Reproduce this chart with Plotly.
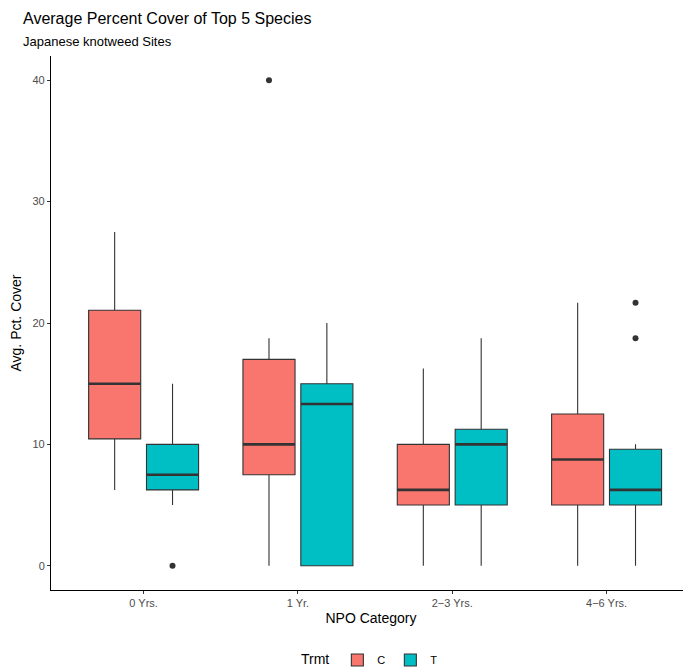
import plotly.graph_objects as go

categories = ["0 Yrs.", "1 Yr.", "2\u22123 Yrs.", "4\u22126 Yrs."]
treatments = ["C", "T"]
colors = {"C": "#F8766D", "T": "#00BFC4"}

# box statistics
c_lower = [6.25, 0, 0, 0]
c_q1 = [10.45, 7.5, 5, 5]
c_median = [15, 10, 6.25, 8.75]
c_q3 = [21.05, 17, 10, 12.5]
c_upper = [27.5, 18.75, 16.25, 21.67]
c_outliers = [[], [40], [], []]

t_lower = [5, 0, 0, 0]
t_q1 = [6.25, 0, 5, 5]
t_median = [7.5, 13.33, 10, 6.25]
t_q3 = [10, 15, 11.25, 9.6]
t_upper = [15, 20, 18.75, 10]
t_outliers = [[0], [], [], [21.67, 18.75]]

stats = {
    "C": dict(lower=c_lower, q1=c_q1, median=c_median, q3=c_q3, upper=c_upper, out=c_outliers),
    "T": dict(lower=t_lower, q1=t_q1, median=t_median, q3=t_q3, upper=t_upper, out=t_outliers),
}

BOXGAP = 0.25
GROUPGAP = 0.1
pos = [i + 1 for i in range(len(categories))]
ntr = len(treatments)
slot = (1 - BOXGAP) / ntr
half = slot * (1 - GROUPGAP) / 2

# the page body has an 8px margin, so the figure is sized to the visible area
W, H = 683, 663
L, T, PW, PH = 43, 48, 640, 534

FONT = "Liberation Sans, Arial, Helvetica, sans-serif"
fig = go.Figure()

for k, tr in enumerate(treatments):
    s = stats[tr]
    fig.add_trace(go.Box(
        name=tr, x=pos, q1=s["q1"], median=s["median"], q3=s["q3"],
        lowerfence=s["lower"], upperfence=s["upper"],
        fillcolor=colors[tr], line=dict(color="#333333", width=1.1),
        whiskerwidth=0, boxpoints=False, offsetgroup=tr,
        legendgroup=tr, showlegend=True,
    ))

for k, tr in enumerate(treatments):
    s = stats[tr]
    off = (k - (ntr - 1) / 2) * slot
    mx, my = [], []
    ox, oy = [], []
    for i, p in enumerate(pos):
        c = p + off
        mx += [c - half, c + half, None]
        my += [s["median"][i], s["median"][i], None]
        for v in s["out"][i]:
            ox.append(c)
            oy.append(v)
    fig.add_trace(go.Scatter(x=mx, y=my, mode="lines",
                             line=dict(color="#333333", width=2.6),
                             showlegend=False, hoverinfo="skip"))
    if ox:
        fig.add_trace(go.Scatter(x=ox, y=oy, mode="markers",
                                 marker=dict(color="#333333", size=6),
                                 showlegend=False))

fig.update_layout(
    width=W, height=H,
    margin=dict(l=L, r=W - L - PW, t=T, b=H - T - PH, autoexpand=False),
    paper_bgcolor="white", plot_bgcolor="white",
    boxmode="group", boxgap=BOXGAP, boxgroupgap=GROUPGAP,
    font=dict(family=FONT, color="black"),
    title=dict(text="Average Percent Cover of Top 5 Species",
               x=15 / W, xref="container", xanchor="left",
               y=1 - 10 / H, yref="container", yanchor="middle",
               font=dict(size=16, color="black")),
    xaxis=dict(range=[0.4, 0.4 + PW / 154.33], tickvals=pos, ticktext=categories,
               showline=True, linecolor="black", linewidth=1.1, automargin=False,
               ticks="outside", ticklen=3, tickcolor="#333333",
               tickfont=dict(size=11, color="#4D4D4D"), showgrid=False, zeroline=False,
               title=dict(text="NPO Category", font=dict(size=14), standoff=4)),
    yaxis=dict(range=[-2, 42], tickvals=[0, 10, 20, 30, 40],
               showline=True, linecolor="black", linewidth=1.1, automargin=False,
               ticks="outside", ticklen=3, tickcolor="#333333",
               tickfont=dict(size=11, color="#4D4D4D"), showgrid=False, zeroline=False,
               title=dict(text="Avg. Pct. Cover", font=dict(size=14), standoff=8)),
    legend=dict(orientation="h", x=0.5, xanchor="center", y=(T + PH - 652) / PH, yanchor="middle",
                title=dict(text="Trmt", font=dict(size=14)), font=dict(size=11),
                itemwidth=30),
    annotations=[dict(text="Japanese knotweed Sites", xref="paper", yref="paper",
                      x=(13 - L) / PW, y=(T + PH - 33) / PH, xanchor="left", yanchor="middle",
                      showarrow=False, font=dict(size=13, color="black"))],
)

fig.write_html("out.html")
